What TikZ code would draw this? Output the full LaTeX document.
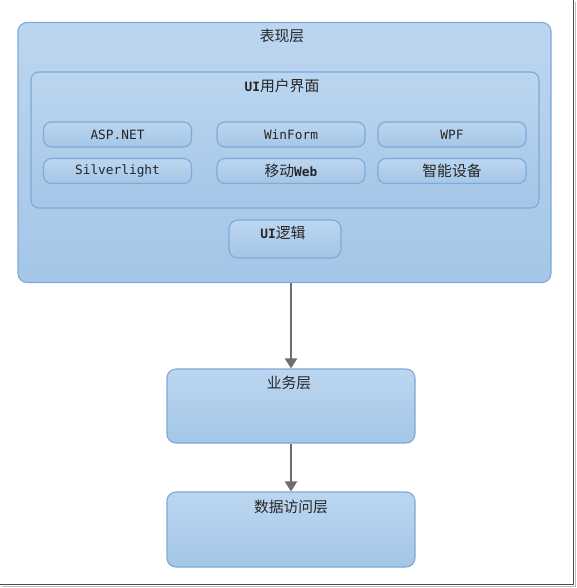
\documentclass[tikz,border=0pt]{standalone}
\usepackage{fontspec}
\setmainfont{DejaVu Sans Mono}
\newfontfamily\cjk{Noto Sans CJK SC}
\usetikzlibrary{arrows.meta}
\definecolor{bordc}{HTML}{7EA9D8}
\definecolor{topc}{HTML}{BCD6F0}
\definecolor{botc}{HTML}{A4C6E7}
\definecolor{txtc}{HTML}{262626}
\definecolor{arrc}{HTML}{6E6E6E}
\tikzset{
  layerbox/.style={draw=bordc, line width=1.1pt, rounded corners=9pt, top color=topc, bottom color=botc, inner sep=0pt},
  itembox/.style={draw=bordc, line width=1.1pt, rounded corners=8pt, top color=topc, bottom color=botc, inner sep=0pt, minimum width=148pt, minimum height=25pt, font=\fontsize{12.8}{14}\selectfont, text=txtc},
  title/.style={font=\fontsize{12.8}{16}\selectfont, text=txtc, inner sep=0pt},
  flow/.style={draw=arrc, line width=2pt, -{Triangle[length=10pt,width=12pt]}}
}
\newcommand{\ck}[1]{{\cjk\fontsize{14.8}{16}\selectfont #1}}
\begin{document}
\begin{tikzpicture}[x=1pt,y=-1pt]
\useasboundingbox (0,0) rectangle (576,588);
\fill[white] (0,0) rectangle (576,588);
% screenshot frame shadow
\draw[black!70, line width=1.6pt] (573.5,0) -- (573.5,584.5) -- (0,584.5);
\draw[black!25, line width=1pt] (575.3,2) -- (575.3,586.5) -- (2,586.5);

\node[layerbox, minimum width=533pt, minimum height=260pt] (pres) at (284.5,152.5) {};
\node[title] (presT) at (282,36) {\ck{表现层}};
\node[layerbox, rounded corners=8pt, minimum width=508pt, minimum height=136pt] (ui) at (285,140) {};
\node[title] (uiT) at (282,86) {\textbf{UI}\ck{用户界面}};

\node[itembox] (asp) at (117.5,134.5) {ASP.NET};
\node[itembox] (winf) at (291,134.5) {WinForm};
\node[itembox] (wpf) at (452,134.5) {WPF};
\node[itembox] (silv) at (117.5,171) {Silverlight};
\node[itembox] (mweb) at (291,171) {\ck{移动}\textbf{Web}};
\node[itembox] (smart) at (452,171) {\ck{智能设备}};

\node[layerbox, minimum width=112pt, minimum height=38pt] (logic) at (285,239) {};
\node[title] (logicT) at (283,233) {\textbf{UI}\ck{逻辑}};

\node[layerbox, minimum width=248pt, minimum height=74pt] (biz) at (291,406) {};
\node[title] (bizT) at (289,383) {\ck{业务层}};
\node[layerbox, minimum width=248pt, minimum height=75pt] (data) at (291,529.5) {};
\node[title] (dataT) at (291,507) {\ck{数据访问层}};

\draw[flow] (biz.north |- pres.south) -- (biz.north);
\draw[flow] (biz.south) -- (data.north);
\end{tikzpicture}
\end{document}
